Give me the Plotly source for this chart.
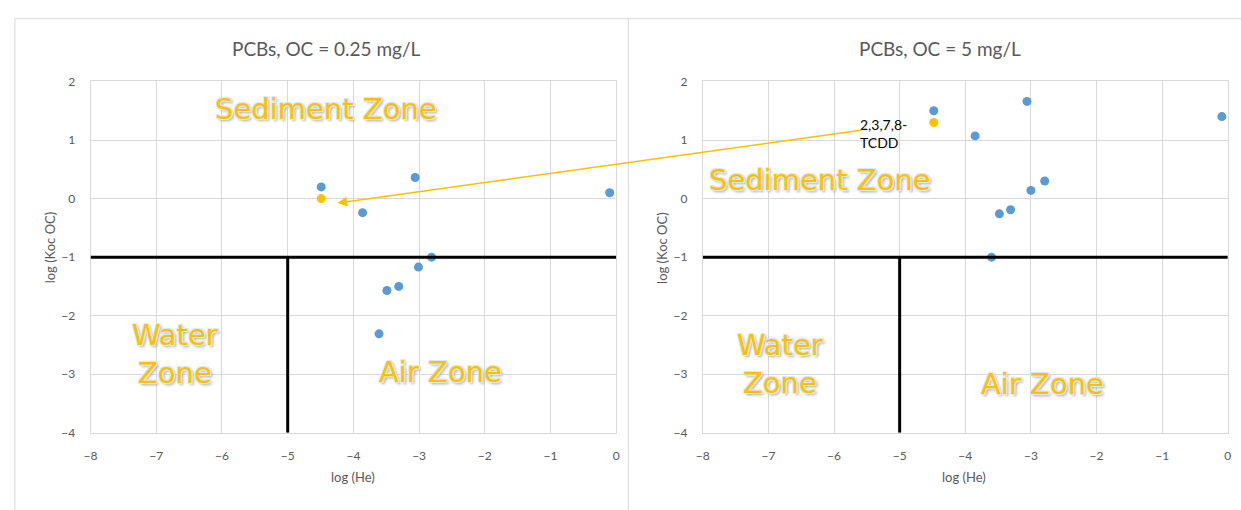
import plotly.graph_objects as go

# ---------------- data ----------------
he_left = [-4.49, -3.86, -3.06, -0.10, -2.81, -3.01, -3.31, -3.49, -3.61]
koc_left = [0.20, -0.24, 0.36, 0.10, -1.00, -1.17, -1.50, -1.57, -2.31]
tcdd_he_left = [-4.49]
tcdd_koc_left = [0.00]

he_right = [-4.48, -3.85, -3.06, -0.09, -2.79, -3.00, -3.31, -3.48, -3.60]
koc_right = [1.50, 1.07, 1.66, 1.40, 0.30, 0.14, -0.19, -0.26, -1.00]
tcdd_he_right = [-4.48]
tcdd_koc_right = [1.30]

titles = ["PCBs, OC = 0.25 mg/L", "PCBs, OC = 5 mg/L"]
x_title = "log (He)"
y_title = "log (Koc OC)"
boundary_he = -5
boundary_koc = -1
x_range = [-8, 0]
y_range = [-4, 2]

W, H = 1241, 510
BLUE = "#5B9BD5"
ORANGE = "#FFC000"
GRID = "#D9D9D9"
TXT = "#595959"
FONT = "Lato, Carlito, Calibri, sans-serif"
ZONE_FONT = "DejaVu Sans, Verdana, sans-serif"
ZONE_SHADOW = ("-1px -1px 0 #dfe8ea, 1px -1px 0 #dfe8ea, -1px 1px 0 #dfe8ea, "
               "1px 1px 0 #dfe8ea, 0 0 2px #c9d6da, 2px 2px 3px #9aa4a8")

def px(x):
    return x / W

def py(y):
    return 1 - y / H

fig = go.Figure()

# scatter traces
fig.add_trace(go.Scatter(x=he_left, y=koc_left, mode="markers", xaxis="x", yaxis="y",
                         marker=dict(color=BLUE, size=9), showlegend=False))
fig.add_trace(go.Scatter(x=tcdd_he_left, y=tcdd_koc_left, mode="markers", xaxis="x", yaxis="y",
                         marker=dict(color=ORANGE, size=9), showlegend=False))
fig.add_trace(go.Scatter(x=he_right, y=koc_right, mode="markers", xaxis="x2", yaxis="y2",
                         marker=dict(color=BLUE, size=9), showlegend=False))
fig.add_trace(go.Scatter(x=tcdd_he_right, y=tcdd_koc_right, mode="markers", xaxis="x2", yaxis="y2",
                         marker=dict(color=ORANGE, size=9), showlegend=False))

ydom = [py(437.7), py(75.7)]
axis_common = dict(
    showgrid=True, gridcolor=GRID, gridwidth=1, zeroline=False,
    showline=True, linecolor=GRID, linewidth=1, mirror=True,
    dtick=1, ticks="outside", tickcolor="rgba(0,0,0,0)",
    tickfont=dict(family=FONT, size=12, color=TXT),
)
fig.update_layout(
    width=W, height=H,
    margin=dict(l=0, r=0, t=0, b=0),
    paper_bgcolor="white", plot_bgcolor="white",
    xaxis=dict(domain=[px(84.3), px(614.7)], range=x_range, anchor="y", ticklen=12, **axis_common),
    yaxis=dict(domain=ydom, range=y_range, anchor="x", ticklen=12, **axis_common),
    xaxis2=dict(domain=[px(702), px(1231.7)], range=x_range, anchor="y2", ticklen=12, **axis_common),
    yaxis2=dict(domain=ydom, range=y_range, anchor="x2", ticklen=12, **axis_common),
)

shapes = []
# chart frames
shapes.append(dict(type="rect", xref="paper", yref="paper", x0=px(8), x1=px(627),
                   y0=-0.1, y1=py(11), line=dict(color=GRID, width=1), layer="below"))
shapes.append(dict(type="rect", xref="paper", yref="paper", x0=px(627), x1=1.1,
                   y0=-0.1, y1=py(11), line=dict(color=GRID, width=1), layer="below"))
# zone boundaries
for xr, yr in (("x", "y"), ("x2", "y2")):
    shapes.append(dict(type="line", xref=xr, yref=yr, x0=x_range[0], x1=x_range[1],
                       y0=boundary_koc, y1=boundary_koc, line=dict(color="black", width=3)))
    shapes.append(dict(type="line", xref=xr, yref=yr, x0=boundary_he, x1=boundary_he,
                       y0=y_range[0], y1=boundary_koc, line=dict(color="black", width=3)))
fig.update_layout(shapes=shapes)

ann = []
# titles
for t, cx in zip(titles, (322.5, 941.5)):
    ann.append(dict(text=t, xref="paper", yref="paper", x=px(cx), y=py(42), showarrow=False,
                    xanchor="center", yanchor="middle",
                    font=dict(family=FONT, size=19, color=TXT)))
# axis titles
for cx in (349, 966):
    ann.append(dict(text=x_title, xref="paper", yref="paper", x=px(cx), y=py(483), showarrow=False,
                    xanchor="center", yanchor="middle", font=dict(family=FONT, size=13, color=TXT)))
for cx in (43, 661):
    ann.append(dict(text=y_title, xref="paper", yref="paper", x=px(cx), y=py(247), showarrow=False,
                    textangle=-90, xanchor="center", yanchor="middle",
                    font=dict(family=FONT, size=13, color=TXT)))

zone_font = dict(family=ZONE_FONT, size=29, color=ORANGE, shadow=ZONE_SHADOW)
# left zones
ann.append(dict(text="Sediment Zone", xref="x", yref="y", x=-4.41, y=1.53, showarrow=False, font=zone_font))
ann.append(dict(text="Water<br>Zone", xref="x", yref="y", x=-6.71, y=-2.65, showarrow=False, font=zone_font))
ann.append(dict(text="Air Zone", xref="x", yref="y", x=-2.67, y=-2.96, showarrow=False, font=zone_font))
# right zones
ann.append(dict(text="Sediment Zone", xref="x2", yref="y2", x=-6.22, y=0.31, showarrow=False, font=zone_font))
ann.append(dict(text="Water<br>Zone", xref="x2", yref="y2", x=-6.82, y=-2.82, showarrow=False, font=zone_font))
ann.append(dict(text="Air Zone", xref="x2", yref="y2", x=-2.82, y=-3.16, showarrow=False, font=zone_font))

# TCDD label and arrow
ann.append(dict(text="2,3,7,8-<br>TCDD", xref="x2", yref="y2", x=-5.64, y=1.12, showarrow=False,
                xanchor="left", yanchor="middle", align="left",
                font=dict(family=FONT, size=14, color="black")))
ann.append(dict(text="", xref="x", yref="y", x=-4.244, y=-0.075, showarrow=True,
                axref="pixel", ayref="pixel", ax=525, ay=-73,
                arrowhead=2, arrowsize=1.3, arrowwidth=1.5, arrowcolor=ORANGE, standoff=0))
fig.update_layout(annotations=ann)

fig.write_html(
    "out.html",
    config={"displayModeBar": False},
    post_script="document.body.style.margin='0px';document.body.style.overflow='hidden';",
)
